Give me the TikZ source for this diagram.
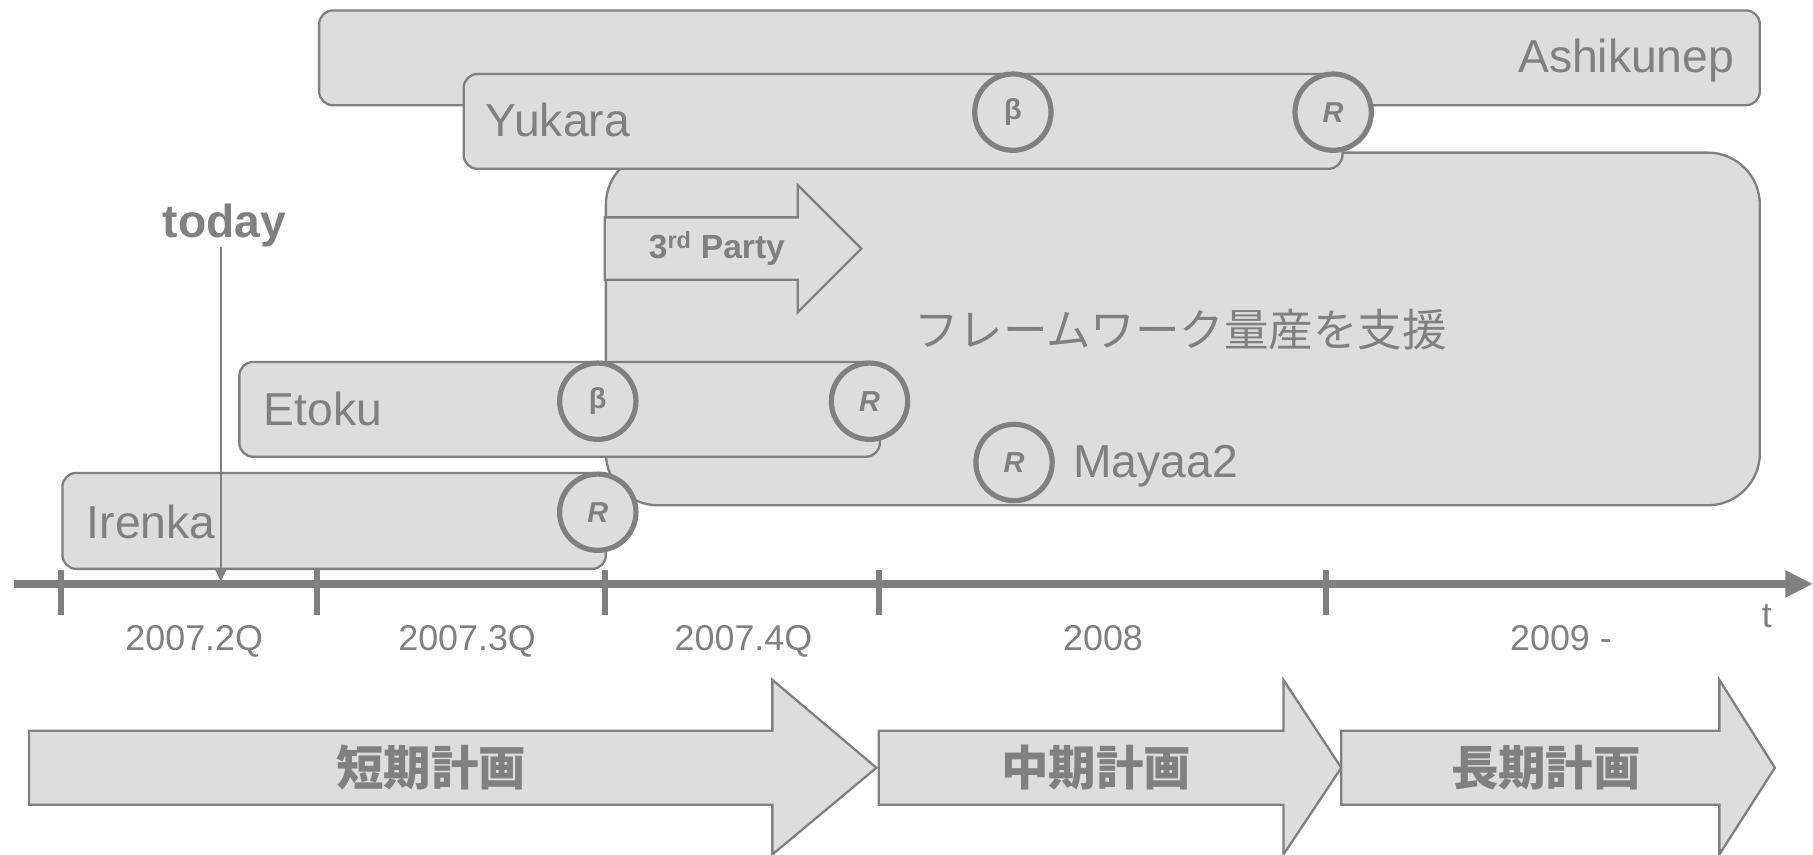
\documentclass[tikz,border=0pt]{standalone}
\usepackage{fontspec}
\setmainfont{Liberation Sans}
\newfontfamily\cjk{Noto Sans CJK JP}
\usetikzlibrary{arrows.meta}
\definecolor{fg}{HTML}{808080}
\definecolor{bg}{HTML}{DDDDDD}
\tikzset{
 bar/.style={draw=fg, fill=bg, line width=2pt, rounded corners=12pt, inner sep=0pt, anchor=north west},
 ms/.style={circle, draw=fg, fill=bg, line width=4.5pt, minimum size=66pt, inner sep=0pt, text=fg, font=\fontsize{25}{25}\selectfont\bfseries},
 lbl/.style={text=fg, inner sep=0pt, font=\fontsize{40}{40}\selectfont},
 yr/.style={text=fg, inner sep=0pt, font=\fontsize{31}{31}\selectfont, anchor=base},
 plan/.style={draw=fg, fill=bg, line width=2pt, line join=miter},
 plantext/.style={text=fg, inner sep=0pt, font=\cjk\bfseries\fontsize{41}{41}\selectfont},
}
\begin{document}
\begin{tikzpicture}[x=1pt,y=-1pt]
\useasboundingbox (0,0) rectangle (1568,739.45);
% Ashikunep
\node[bar, minimum width=1246pt, minimum height=82pt] (ashik) at (275,8) {};
\node[lbl, anchor=base east] (ashikt) at (1500,63) {Ashikunep};
% framework box
\node[bar, rounded corners=45pt, minimum width=998pt, minimum height=305pt] (fw) at (523,131) {};
% Yukara
\node[bar, minimum width=760pt, minimum height=82pt] (yuk) at (400,63) {};
\node[lbl, anchor=base west] (yukt) at (420,118) {Yukara};
\node[ms] (yukb) at (876,97) {β};
\node[ms] (yukr) at (1153,97) {\textit{R}};
% 3rd party arrow
\draw[plan] (523,188) -- (690,188) -- (690,160) -- (745,215) -- (690,270) -- (690,242) -- (523,242) -- cycle;
\node[text=fg, inner sep=0pt, font=\bfseries\fontsize{29}{29}\selectfont] (third) at (620,215) {3\textsuperscript{rd} Party};
\node[text=fg, inner sep=0pt, font=\cjk\fontsize{38.5}{38.5}\selectfont] (fwt) at (1021,285) {フレームワーク量産を支援};
% Etoku
\node[bar, minimum width=554pt, minimum height=82pt] (eto) at (206,312) {};
\node[lbl, anchor=base west] (etot) at (228,368) {Etoku};
\node[ms] (etob) at (517,347) {β};
\node[ms] (etor) at (752,347) {\textit{R}};
% Irenka
\node[bar, minimum width=470pt, minimum height=83pt] (ire) at (53,408) {};
\node[lbl, anchor=base west] (iret) at (75,466) {Irenka};
\node[ms] (irer) at (517,443) {\textit{R}};
% Mayaa2
\node[ms] (mayr) at (877,400) {\textit{R}};
\node[lbl, anchor=base west] (mayt) at (928,413) {Mayaa2};
% today
\node[text=fg, inner sep=0pt, font=\bfseries\fontsize{40}{40}\selectfont, anchor=base] (today) at (194,205) {today};
\coordinate (todayend) at (191,503);
\draw[fg, line width=1.5pt, -{Triangle[width=9pt,length=10pt]}] (today.south -| todayend) -- (todayend);
% axis
\coordinate (ax0) at (12,505);
\coordinate (ax1) at (1568,505);
\draw[fg, line width=7pt, -{Triangle[width=22pt,length=24pt]}] (ax0) -- (ax1);
\foreach \x in {53,274,523,760,1147} \draw[fg, line width=5pt] (\x,493) -- (\x,532);
\node[yr] (q2) at (168,563) {2007.2Q};
\node[yr] (q3) at (404,563) {2007.3Q};
\node[yr] (q4) at (643,563) {2007.4Q};
\node[yr] (y8) at (954,563) {2008};
\node[yr] (y9) at (1350,563) {2009 -};
\node[yr] (tt) at (1528,543) {t};
% plans
\draw[plan] (25,632) -- (668,632) -- (668,588) -- (758,664) -- (668,739) -- (668,696) -- (25,696) -- cycle;
\node[plantext] (p1) at (373,664) {短期計画};
\draw[plan] (760,632) -- (1110,632) -- (1110,588) -- (1160,664) -- (1110,739) -- (1110,696) -- (760,696) -- cycle;
\node[plantext] (p2) at (948,664) {中期計画};
\draw[plan] (1160,632) -- (1487,632) -- (1487,588) -- (1535,664) -- (1487,739) -- (1487,696) -- (1160,696) -- cycle;
\node[plantext] (p3) at (1337,664) {長期計画};
\end{tikzpicture}
\end{document}
